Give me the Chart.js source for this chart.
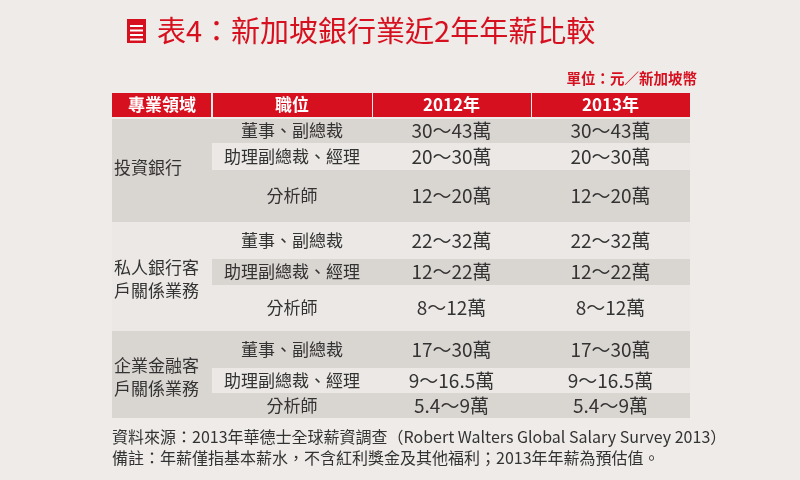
<!DOCTYPE html><html><head><meta charset="utf-8">
<script src="https://cdn.jsdelivr.net/npm/chart.js@4/dist/chart.umd.min.js"></script>
<style>html,body{margin:0;padding:0;background:#eeebe8;}canvas{display:block}</style></head><body>
<canvas id="c" width="800" height="480"></canvas>
<script>
const title = "表4：新加坡銀行業近2年年薪比較";
const unit = "單位：元／新加坡幣";
const headers = ["專業領域","職位","2012年","2013年"];
const groups = [["投資銀行"],["私人銀行客","戶關係業務"],["企業金融客","戶關係業務"]];
const positions = ["董事、副總裁","助理副總裁、經理","分析師"];
const salary2012 = ["30～43萬","20～30萬","12～20萬","22～32萬","12～22萬","8～12萬","17～30萬","9～16.5萬","5.4～9萬"];
const salary2013 = ["30～43萬","20～30萬","12～20萬","22～32萬","12～22萬","8～12萬","17～30萬","9～16.5萬","5.4～9萬"];
const notes = ["資料來源：2013年華德士全球薪資調查（Robert Walters Global Salary Survey 2013）","備註：年薪僅指基本薪水，不含紅利獎金及其他福利；2013年年薪為預估值。"];

// layout
const colX = [112,212,372,531,690];
const rowY = [119,143,170,222,259,285,331,368,393,418];
const RED="#d7101f", DARK="#d9d5d1", LIGHT="#ebe8e5";
const F='"Noto Sans CJK TC","Noto Sans CJK SC",sans-serif';

const tablePlugin = {id:'tbl', afterDraw(ch){
  const c=ch.ctx, X=v=>ch.scales.x.getPixelForValue(v), Y=v=>ch.scales.y.getPixelForValue(v);
  c.save();
  c.fillStyle=RED; c.fillRect(X(127),Y(19),X(146)-X(127),Y(43)-Y(19));
  c.fillStyle="#fff";
  for(let i=0;i<4;i++){c.fillRect(X(130),Y(25+i*4.5),X(143)-X(130),2);}
  c.fillStyle=RED; c.font='29px '+F; c.textBaseline='middle'; c.textAlign='left';
  c.fillText(title,X(157),Y(31));
  c.font='bold 14.5px '+F; c.textAlign='right'; c.fillText(unit,X(697),Y(78));
  for(let i=0;i<4;i++){
    c.fillStyle=RED; c.fillRect(X(colX[i])+(i?1:0),Y(93),X(colX[i+1])-X(colX[i])-1,Y(117)-Y(93));
    c.fillStyle="#fff"; c.font='bold 17px '+F; c.textAlign='center';
    c.fillText(headers[i],(X(colX[i])+X(colX[i+1]))/2,Y(105));
  }
  for(let g=0;g<3;g++){
    const top=rowY[g*3], bot=rowY[g*3+3];
    const gc = g===1?LIGHT:DARK, alt = g===1?DARK:LIGHT;
    c.fillStyle=gc; c.fillRect(X(colX[0]),Y(top),X(colX[4])-X(colX[0]),Y(bot)-Y(top));
    c.fillStyle=alt; c.fillRect(X(colX[1]),Y(rowY[g*3+1]),X(colX[4])-X(colX[1]),Y(rowY[g*3+2])-Y(rowY[g*3+1]));
    c.fillStyle="#333"; c.font='17px '+F; c.textAlign='left';
    const lines=groups[g], mid=(Y(top)+Y(bot))/2;
    lines.forEach((t,k)=>c.fillText(t,X(114),mid+(k-(lines.length-1)/2)*23+(g===0?-3:3)));
    for(let r=0;r<3;r++){
      const i=g*3+r, ym=(Y(rowY[i])+Y(rowY[i+1]))/2;
      c.textAlign='center'; c.font='17px '+F;
      c.fillText(positions[r],(X(colX[1])+X(colX[2]))/2,ym);
      c.font='19px '+F;
      c.fillText(salary2012[i],(X(colX[2])+X(colX[3]))/2,ym);
      c.fillText(salary2013[i],(X(colX[3])+X(colX[4]))/2,ym);
    }
  }
  c.fillStyle="#333"; c.font='16px '+F; c.textAlign='left';
  c.fillText(notes[0],X(112),Y(437)); c.fillText(notes[1],X(112),Y(458));
  c.restore();
}};
new Chart(document.getElementById('c'),{type:'scatter',data:{datasets:[{data:[]}]},
 options:{responsive:false,animation:false,layout:{padding:0},
 plugins:{legend:{display:false},tooltip:{enabled:false}},
 scales:{x:{type:'linear',min:0,max:800,display:false},y:{type:'linear',min:0,max:480,reverse:true,display:false}}},
 plugins:[tablePlugin]});
</script></body></html>
